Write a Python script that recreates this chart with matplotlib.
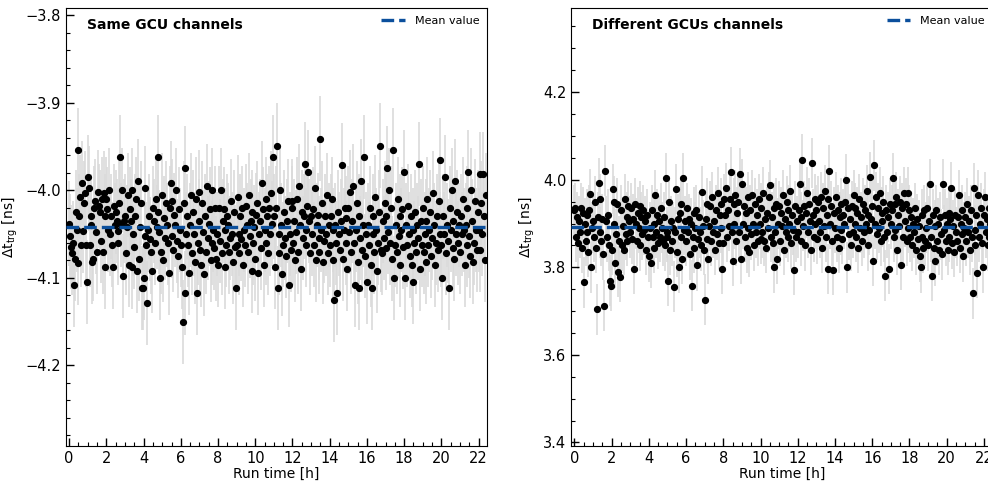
import numpy as np
import matplotlib
matplotlib.use("Agg")
import matplotlib.pyplot as plt
from matplotlib.ticker import AutoMinorLocator, MultipleLocator

# sampling of the run (hours between two points)
SAMPLE_STEP_H = 0.05

# Delta t_trg [ns], same GCU channels, one row per hour of run time
same_gcu_rows = [
    [-4.038, -4.052, -4.065, -4.072, -4.060, -4.108, -4.078, -4.025, -4.045, -4.083, -3.954, -4.030, -4.008, -4.062, -3.992, -4.046, -4.015, -4.003, -4.062, -4.105],
    [-3.985, -3.998, -4.062, -4.030, -4.040, -4.082, -4.079, -4.020, -4.012, -4.048, -4.070, -4.002, -4.018, -4.025, -4.058, -4.010, -4.070, -4.003, -4.030, -4.088],
    [-4.010, -4.022, -4.045, -4.000, -4.050, -4.030, -4.062, -4.088, -4.018, -4.040, -4.025, -4.035, -4.046, -4.060, -4.015, -3.962, -4.040, -4.000, -4.098, -4.035],
    [-4.030, -4.072, -4.042, -4.005, -4.085, -4.022, -4.035, -4.000, -4.088, -4.050, -4.065, -4.030, -4.010, -4.092, -3.990, -4.078, -4.042, -4.015, -4.112, -4.112],
    [-4.100, -4.052, -3.998, -4.062, -4.129, -4.045, -4.030, -4.056, -4.070, -4.092, -4.020, -4.035, -4.060, -4.010, -4.042, -4.025, -3.962, -4.048, -4.100, -4.070],
    [-4.005, -4.080, -4.032, -4.055, -4.015, -4.040, -4.060, -4.095, -4.020, -3.992, -4.052, -4.012, -4.068, -4.028, -4.040, -4.000, -4.058, -4.075, -4.022, -4.045],
    [-4.062, -4.088, -4.150, -4.015, -3.975, -4.117, -4.050, -4.030, -4.062, -4.095, -4.040, -4.005, -4.072, -4.025, -4.050, -4.082, -4.010, -4.117, -4.060, -4.035],
    [-4.002, -4.068, -4.085, -4.015, -4.048, -4.096, -4.030, -4.070, -3.995, -4.055, -4.038, -4.022, -4.080, -4.060, -4.000, -4.045, -4.066, -4.020, -4.078, -4.050],
    [-4.085, -4.020, -4.058, -4.000, -4.072, -4.035, -4.022, -4.088, -4.045, -4.062, -4.030, -4.040, -4.070, -4.055, -4.012, -4.050, -4.082, -4.025, -4.065, -4.112],
    [-4.062, -4.008, -4.050, -4.072, -4.030, -4.056, -4.020, -4.085, -4.045, -4.062, -4.018, -4.040, -4.070, -4.005, -4.052, -4.035, -4.092, -4.025, -4.060, -4.042],
    [-4.078, -4.028, -4.015, -4.095, -4.050, -4.035, -4.066, -3.992, -4.022, -4.085, -4.045, -4.010, -4.060, -4.030, -4.072, -4.020, -4.050, -4.003, -4.038, -3.962],
    [-4.030, -4.088, -4.020, -3.949, -4.112, -4.050, -4.072, -4.000, -4.040, -4.096, -4.062, -4.025, -4.055, -4.075, -4.035, -4.012, -4.108, -4.050, -4.068, -4.020],
    [-4.012, -4.060, -4.035, -4.080, -4.048, -4.010, -4.070, -3.995, -4.040, -4.090, -4.025, -4.055, -4.030, -3.970, -4.062, -4.045, -4.018, -3.979, -4.035, -4.072],
    [-4.030, -4.050, -4.022, -4.062, -3.998, -4.080, -4.040, -4.028, -4.055, -4.070, -3.941, -4.045, -4.015, -4.082, -4.058, -4.030, -4.050, -4.005, -4.072, -4.040],
    [-4.062, -4.030, -4.010, -4.080, -4.045, -4.125, -4.040, -4.060, -4.117, -4.025, -4.050, -4.068, -4.035, -3.971, -4.078, -4.045, -4.020, -4.060, -4.032, -4.090],
    [-4.020, -4.048, -4.002, -4.070, -4.035, -3.995, -4.060, -4.108, -4.045, -4.015, -4.082, -4.112, -4.030, -4.055, -3.990, -4.068, -4.040, -3.962, -4.075, -4.050],
    [-4.105, -4.040, -4.062, -4.020, -4.085, -4.112, -4.050, -4.030, -4.070, -4.008, -4.045, -4.092, -4.060, -4.025, -3.949, -4.068, -4.072, -4.035, -4.055, -4.015],
    [-4.030, -4.066, -3.975, -4.048, -4.000, -4.060, -4.020, -4.078, -3.954, -4.100, -4.062, -4.040, -4.070, -4.010, -4.052, -4.030, -4.085, -4.045, -4.022, -4.065],
    [-3.979, -4.100, -4.040, -4.062, -4.018, -4.050, -4.075, -4.030, -4.085, -4.105, -4.045, -4.060, -4.025, -4.070, -4.040, -4.055, -3.970, -4.090, -4.035, -4.062],
    [-4.020, -4.070, -4.050, -4.035, -4.082, -4.010, -4.062, -4.045, -4.025, -4.075, -4.055, -4.003, -4.040, -4.085, -4.060, -4.030, -4.068, -4.012, -4.050, -3.966],
    [-4.062, -4.100, -4.030, -4.050, -3.985, -4.072, -4.040, -4.058, -4.112, -4.020, -4.045, -4.000, -4.066, -4.035, -4.078, -3.990, -4.050, -4.025, -4.060, -4.040],
    [-4.070, -4.030, -4.050, -4.010, -4.045, -4.085, -4.040, -4.062, -4.020, -3.979, -4.052, -4.075, -4.000, -4.035, -4.082, -4.060, -4.012, -4.045, -4.068, -4.025],
    [-4.045, -3.982, -4.068, -4.015, -4.050, -3.982, -4.030, -4.080, -4.005],
]

# Delta t_trg [ns], different GCUs channels, one row per hour of run time
diff_gcu_rows = [
    [3.930, 3.935, 3.870, 3.915, 3.855, 3.905, 3.880, 3.935, 3.845, 3.925, 3.766, 3.900, 3.860, 3.920, 3.880, 3.835, 3.930, 3.967, 3.800, 3.890],
    [3.905, 3.870, 3.950, 3.845, 3.704, 3.915, 3.992, 3.880, 3.955, 3.860, 3.910, 3.830, 3.712, 4.021, 3.905, 3.870, 3.920, 3.850, 3.769, 3.758],
    [3.840, 3.979, 3.900, 3.950, 3.810, 3.875, 3.945, 3.790, 3.860, 3.779, 3.930, 3.850, 3.895, 3.840, 3.955, 3.875, 3.915, 3.860, 3.940, 3.905],
    [3.880, 3.935, 3.865, 3.910, 3.796, 3.945, 3.900, 3.860, 3.925, 3.890, 3.940, 3.850, 3.915, 3.875, 3.930, 3.885, 3.905, 3.840, 3.920, 3.870],
    [3.825, 3.890, 3.810, 3.930, 3.870, 3.900, 3.845, 3.965, 3.880, 3.920, 3.855, 3.905, 3.870, 3.935, 3.890, 3.860, 3.915, 3.850, 4.004, 3.880],
    [3.870, 3.769, 3.950, 3.840, 3.905, 3.860, 3.890, 3.756, 3.880, 3.979, 3.835, 3.910, 3.800, 3.925, 3.870, 3.945, 3.820, 4.004, 3.885, 3.905],
    [3.860, 3.935, 3.880, 3.910, 3.830, 3.900, 3.758, 3.870, 3.925, 3.845, 3.890, 3.930, 3.805, 3.865, 3.915, 3.880, 3.850, 3.973, 3.895, 3.840],
    [3.726, 3.910, 3.865, 3.945, 3.820, 3.895, 3.940, 3.860, 3.960, 3.880, 3.905, 3.840, 3.930, 3.875, 3.970, 3.855, 3.920, 3.890, 3.945, 3.796],
    [3.855, 3.955, 3.920, 3.980, 3.870, 3.930, 3.895, 3.955, 4.017, 3.880, 3.815, 3.945, 3.900, 3.965, 3.860, 3.925, 3.950, 3.880, 4.014, 3.820],
    [3.990, 3.900, 3.940, 3.870, 3.925, 3.845, 3.960, 3.890, 3.835, 3.930, 3.875, 3.965, 3.900, 3.850, 3.945, 3.880, 3.920, 3.860, 3.955, 3.900],
    [3.865, 3.935, 3.880, 3.970, 3.860, 3.910, 3.845, 3.925, 3.890, 3.960, 3.988, 3.870, 3.915, 3.855, 3.800, 3.935, 3.880, 3.945, 3.820, 3.900],
    [3.940, 3.860, 3.925, 3.895, 3.965, 3.840, 3.910, 3.880, 3.950, 3.870, 3.930, 3.900, 3.975, 3.855, 3.920, 3.885, 3.794, 3.940, 3.870, 3.905],
    [3.880, 3.930, 3.990, 3.860, 3.915, 4.046, 3.895, 3.940, 3.850, 3.925, 3.970, 3.880, 3.945, 3.905, 3.840, 4.038, 3.920, 3.870, 3.955, 3.900],
    [3.930, 3.865, 3.950, 3.905, 3.880, 3.960, 3.845, 3.935, 3.895, 3.975, 3.870, 3.920, 3.955, 3.796, 4.021, 3.900, 3.940, 3.860, 3.794, 3.925],
    [3.890, 3.960, 3.870, 3.930, 3.845, 3.915, 3.885, 3.945, 3.865, 3.920, 3.900, 3.950, 4.000, 3.800, 3.935, 3.875, 3.910, 3.850, 3.940, 3.880],
    [3.965, 3.900, 3.935, 3.870, 3.925, 3.845, 3.955, 3.890, 3.915, 3.860, 3.945, 3.880, 3.930, 3.900, 3.975, 3.850, 3.920, 3.885, 4.006, 3.910],
    [3.940, 3.815, 4.033, 3.900, 3.960, 3.875, 3.935, 3.890, 3.970, 3.860, 3.925, 3.905, 3.950, 3.870, 3.781, 3.930, 3.880, 3.915, 3.796, 3.945],
    [3.900, 3.930, 4.004, 3.870, 3.945, 3.885, 3.960, 3.840, 3.920, 3.895, 3.950, 3.806, 3.935, 3.870, 3.970, 3.905, 3.945, 3.860, 3.970, 3.890],
    [3.930, 3.870, 3.915, 3.850, 3.900, 3.880, 3.935, 3.840, 3.910, 3.865, 3.895, 3.825, 3.800, 3.920, 3.870, 3.845, 3.930, 3.860, 3.890, 3.935],
    [3.850, 3.905, 3.990, 3.870, 3.781, 3.920, 3.845, 3.895, 3.815, 3.930, 3.860, 3.900, 3.840, 3.915, 3.875, 3.830, 3.990, 3.885, 3.920, 3.860],
    [3.900, 3.840, 3.925, 3.870, 3.910, 3.982, 3.855, 3.895, 3.835, 3.920, 3.880, 3.860, 3.915, 3.965, 3.845, 3.900, 3.875, 3.930, 3.825, 3.890],
    [3.915, 3.860, 3.945, 3.880, 3.905, 3.840, 3.930, 3.870, 3.741, 3.980, 3.885, 3.850, 3.920, 3.788, 3.965, 3.870, 3.900, 3.935, 3.855, 3.800],
    [3.920, 3.960, 3.880, 3.910, 3.850, 3.935, 3.870, 3.900, 3.890],
]

# uncertainty on each point [ns]
same_gcu_err = 0.048
diff_gcu_err = 0.058

# mean values [ns]
same_gcu_mean = -4.042
diff_gcu_mean = 3.892

panels = [
    ("Same GCU channels", same_gcu_rows, same_gcu_err, same_gcu_mean, 0.25, 0.1, 5),
    ("Different GCUs channels", diff_gcu_rows, diff_gcu_err, diff_gcu_mean, 0.5, 0.2, 4),
]

fig = plt.figure(figsize=(9.88, 4.83), dpi=100)
positions = [[0.0668, 0.0766, 0.4261, 0.9068], [0.5782, 0.0766, 0.4261, 0.9068]]

for pos, (title, rows, err, mean, half, major, nminor) in zip(positions, panels):
    ax = fig.add_axes(pos)
    y = np.concatenate([np.asarray(r) for r in rows])
    t = np.arange(len(y)) * SAMPLE_STEP_H

    ax.errorbar(t, y, yerr=err, fmt="none", ecolor="#dadada", elinewidth=1.2, zorder=1)
    ax.plot(t, y, "o", color="black", markersize=4.2, zorder=2)
    ax.axhline(mean, color="#0b4f9c", linestyle=(0, (3.8, 1.5)), linewidth=2.4, zorder=3,
               label="Mean value")

    ax.set_xlim(-0.17, 22.45)
    ax.set_ylim(mean - half, mean + half)
    ax.xaxis.set_major_locator(MultipleLocator(2))
    ax.xaxis.set_minor_locator(AutoMinorLocator(4))
    ax.yaxis.set_major_locator(MultipleLocator(major))
    ax.yaxis.set_minor_locator(AutoMinorLocator(nminor))
    ax.tick_params(which="both", direction="in", labelsize=10.5)
    ax.tick_params(which="major", length=6, width=1)
    ax.tick_params(which="minor", length=3, width=0.8)

    ax.set_xlabel("Run time [h]", fontsize=10, labelpad=1)
    ax.set_ylabel(r"$\mathregular{\Delta t_{trg}}$ [ns]", fontsize=10)
    ax.text(0.05, 0.962, title, transform=ax.transAxes, fontsize=10,
            fontweight="bold", va="center", ha="left")
    ax.legend(loc="upper right", frameon=False, fontsize=8, handlelength=2.1,
              handletextpad=0.9, borderaxespad=0.3)

fig.savefig("out.png", dpi=100)
